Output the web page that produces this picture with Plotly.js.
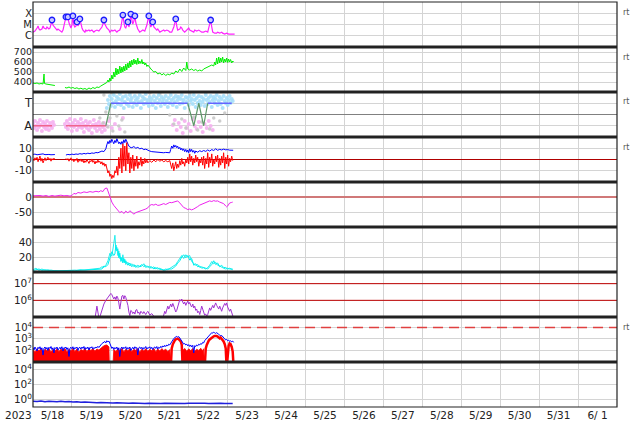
<!DOCTYPE html>
<html><head><meta charset="utf-8">
<script src="https://cdn.plot.ly/plotly-3.0.1.min.js"></script>
<style>html,body{margin:0;padding:0;background:#fff}#chart{width:634px;height:424px}</style>
</head><body><div id="chart"></div>
<script>
// ---- time axis: hours after 2023-05-18 00:00 UT ----
const yearLabel = '2023';
const rangeStart = '2023-05-18';
const rangeEnd = '2023-06-02';

// Panel 1: X-ray flux
const xrayHours = [0,1.2,2.5,3.1,3.7,4.3,5.5,6.2,6.8,8.0,
 8.6,9.8,10.5,11.1,11.7,12.3,13.5,14.8,15.4,16.6,
 17.8,18.5,19.1,19.7,20.3,20.9,21.5,22.2,22.8,23.4,
 24.0,24.6,25.2,25.8,26.5,27.1,27.7,28.3,28.9,29.5,
 30.2,30.8,32.0,32.6,33.2,34.5,35.1,36.3,37.5,38.2,
 39.4,40.6,41.2,42.5,43.1,43.7,44.3,44.9,45.5,46.8,
 47.4,48.6,49.2,50.5,51.7,52.3,53.5,54.2,54.8,55.4,
 56.0,56.6,57.2,57.8,58.5,59.1,59.7,60.3,60.9,61.5,
 62.2,62.8,63.4,64.0,64.6,65.8,66.5,67.7,68.9,69.5,
 70.2,70.8,71.4,72.0,72.6,73.2,73.8,74.5,75.1,76.3,
 76.9,78.2,79.4,80.6,81.2,82.5,83.7,84.3,85.5,86.2,
 86.8,87.4,88.0,88.6,89.2,90.5,91.1,91.7,92.3,93.5,
 94.8,95.4,96.0,96.6,97.8,99.1,99.7,100.9,102.2,102.8,
 104.0,105.2,106.5,107.7,108.3,108.9,109.5,110.2,110.8,112.0,
 113.2,113.8,115.1,116.3,116.9,118.2,119.4,120.6,121.8,123.1,
 124.3];
const xrayFlux = [2.1e-6,2.6e-6,4.9e-6,7.4e-6,4.0e-6,3.2e-6,4.0e-6,7.4e-6,4.9e-6,4.0e-6,
 6e-6,4e-6,4.9e-6,9e-6,2.5e-5,9e-6,4.9e-6,3.2e-6,4.0e-6,2.6e-6,
 2.1e-6,3.2e-6,9e-6,2.5e-5,4.7e-5,2.5e-5,4.7e-5,1.35e-5,6e-6,4.9e-6,
 9e-6,5.8e-5,9e-6,6e-6,7.4e-6,1.7e-5,7.4e-6,1.1e-5,3.1e-5,1.1e-5,
 4.9e-6,3.2e-6,2.1e-6,3.2e-6,2.6e-6,3.2e-6,2.6e-6,3.2e-6,2.1e-6,2.6e-6,
 3.2e-6,2.6e-6,3.2e-6,6e-6,1.1e-5,2.5e-5,1.1e-5,6e-6,4.9e-6,3.2e-6,
 2.1e-6,3.2e-6,2.6e-6,3.2e-6,2.1e-6,2.6e-6,3.2e-6,6e-6,1.7e-5,6.9e-5,
 1.7e-5,6e-6,4.9e-6,9e-6,1.7e-5,6e-6,1.35e-5,8.5e-5,2.5e-5,1.1e-5,
 2.0e-5,5.8e-5,1.35e-5,6e-6,4e-6,2.1e-6,2.6e-6,3.2e-6,2.6e-6,4e-6,
 9e-6,2.5e-5,5.8e-5,1.35e-5,6e-6,9e-6,1.7e-5,6e-6,4.9e-6,3.2e-6,
 4e-6,2.1e-6,2.6e-6,3.2e-6,2.6e-6,3.2e-6,2.6e-6,2.1e-6,2.1e-6,3.2e-6,
 6e-6,1.35e-5,3.1e-5,7.4e-6,3.2e-6,4e-6,6e-6,4.9e-6,3.2e-6,2.1e-6,
 3.2e-6,4e-6,4.9e-6,3.2e-6,2.6e-6,2.1e-6,3.2e-6,2.6e-6,3.2e-6,2.6e-6,
 2.1e-6,2.1e-6,2.6e-6,2.1e-6,4.9e-6,1.1e-5,2.5e-5,6e-6,2.1e-6,1.7e-6,
 1.7e-6,2.1e-6,1.7e-6,2.1e-6,1.7e-6,1.4e-6,1.7e-6,1.4e-6,1.4e-6,1.5e-6,
 1.4e-6];
const flareHours = [11.7,20.3,21.5,24.6,27.1,28.9,43.7,55.4,58.5,60.3,62.8,71.4,73.8,88.0,109.5];
const flareFlux  = [2.5e-5,4.7e-5,4.7e-5,5.8e-5,1.7e-5,3.1e-5,2.5e-5,6.9e-5,1.7e-5,8.5e-5,5.8e-5,5.8e-5,1.7e-5,3.1e-5,2.5e-5];

// Panel 2: solar wind speed
const speedHours = [0,1.2,2.5,3.7,4.9,6.2,6.8,7.1,8.0,9.2,
 10.5,11.7,12.9,13.5,null,19.7,20.9,22.2,23.4,24.6,
 25.8,27.1,28.3,29.5,30.8,32.0,33.2,34.5,35.7,36.9,
 38.2,39.4,40.6,41.8,43.1,44.3,45.5,46.2,46.8,47.4,
 48.0,48.6,49.2,49.8,50.5,51.1,51.7,52.3,52.9,53.5,
 54.2,54.8,55.4,56.0,56.6,57.2,57.8,58.5,59.1,59.7,
 60.3,60.9,61.5,62.2,62.8,63.4,64.0,64.6,65.2,65.8,
 66.5,67.1,67.7,68.3,68.9,69.5,70.2,70.8,72.0,73.2,
 74.5,75.7,76.9,78.2,79.4,80.6,81.8,83.1,84.3,85.5,
 86.8,88.0,89.2,90.5,91.7,92.9,94.2,94.8,95.4,96.6,
 97.8,99.1,100.3,101.5,102.8,104.0,105.2,106.5,107.7,108.9,
 110.2,111.4,112.0,112.6,113.2,113.8,114.5,115.1,115.7,116.3,
 116.9,117.5,118.2,118.8,119.4,120.0,120.6,121.2,121.8,122.5,
 123.1,123.7];
const speedKms = [390,385,390,380,385,380,480,385,380,378,
 375,370,372,365,null,345,340,350,338,345,
 335,342,330,338,328,335,325,340,330,345,
 335,350,345,360,370,385,395,420,400,440,
 410,470,430,500,450,540,470,530,480,560,
 490,550,500,560,510,580,520,590,540,610,
 550,620,570,630,580,620,575,640,580,610,
 585,625,580,600,570,590,555,570,540,520,
 500,505,480,490,470,485,465,480,470,490,
 480,510,495,530,505,540,515,600,530,520,
 530,515,525,510,520,510,530,540,545,560,
 570,560,600,570,640,580,650,590,640,600,
 650,590,630,600,640,595,630,600,625,590,
 610,600];

// Panel 3: sector (T = toward = 1, A = away = -1) and field-angle clouds
const awayLineHours = [0,11.7,null,20.3,44.9];
const awayLineVal   = [-1,-1,null,-1,-1];
const towardLineHours = [48.0,95.4,null,107.7,122.5];
const towardLineVal   = [1,1,null,1,1];
const switchLineHours = [44.9,48.0,null,95.4,99.1,102.2,105.2,107.7];
const switchLineVal   = [-1,1,null,1,-1,1,-1,1];
const awayDotHours = [0,0.6,1.2,1.8,2.5,3.1,3.7,4.3,4.9,5.5,6.2,6.8,7.4,8.0,8.6,9.2,9.8,10.5,11.1,11.7,12.3,12.9,
 19.7,20.3,20.9,21.5,22.2,22.8,23.4,24.0,24.6,25.2,25.8,26.5,27.1,27.7,28.3,28.9,29.5,30.2,30.8,31.4,32.0,32.6,33.2,33.8,
 34.5,35.1,35.7,36.3,36.9,37.5,38.2,38.8,39.4,40.0,40.6,41.2,41.8,42.5,43.1,43.7,44.3,45.5,46.8,48.6,50.5,53.5,55.4,
 86.2,87.4,88.6,89.8,91.1,92.3,93.5,94.8,96.0,97.2,98.5,99.7,100.9,102.2,103.4,104.6,105.8,107.1,108.3,109.5,110.8];
const awayDotVal = [-0.84,-1.2,-0.58,-1.02,-1.38,-0.76,-1.11,-0.49,-0.93,-1.47,-0.67,-1.11,-0.84,-1.29,-0.58,-1.02,-1.38,-0.76,-1.02,-1.2,-0.67,-0.93,
 -0.84,-1.11,-0.58,-1.29,-0.84,-0.4,-1.02,-1.47,-0.76,-1.11,-0.49,-0.93,-1.38,-0.67,-1.11,-0.84,-0.4,-1.2,-0.76,-1.56,-1.02,-0.58,-1.2,-0.84,
 -1.38,-0.67,-1.11,-1.64,-0.93,-0.49,-1.2,-0.84,-1.47,-1.02,-0.67,-1.29,-0.93,-1.56,-1.11,-0.76,-1.38,-1.02,-0.58,-1.2,-0.84,-1.29,-0.31,
 -0.93,-0.49,-1.38,-0.76,-1.11,-1.64,-0.58,-1.2,-0.84,-1.47,-0.4,-1.02,-1.29,-0.67,-1.11,-1.56,-0.84,-1.2,-0.58,-1.02,-1.38];
const towardDotHours = [45.5,46.2,46.8,47.4,48.0,48.6,49.2,49.8,50.5,51.1,51.7,52.3,52.9,53.5,54.2,54.8,55.4,56.0,56.6,57.2,
 57.8,58.5,59.1,59.7,60.3,60.9,61.5,62.2,62.8,63.4,64.0,64.6,65.2,65.8,66.5,67.1,67.7,68.3,68.9,69.5,
 70.2,70.8,71.4,72.0,72.6,73.2,73.8,74.5,75.1,75.7,76.3,76.9,77.5,78.2,78.8,79.4,80.0,80.6,81.2,81.8,
 82.5,83.1,83.7,84.3,84.9,85.5,86.2,86.8,87.4,88.0,88.6,89.2,89.8,90.5,91.1,91.7,92.3,92.9,93.5,94.2,
 94.8,95.4,96.0,96.6,97.2,97.8,98.5,99.1,99.7,100.3,100.9,101.5,102.2,102.8,103.4,104.0,104.6,105.2,105.8,106.5,
 107.1,107.7,108.3,108.9,109.5,110.2,110.8,111.4,112.0,112.6,113.2,113.8,114.5,115.1,115.7,116.3,116.9,117.5,118.2,118.8,
 119.4,120.0,120.6,121.2,121.8,122.5,123.1];
const towardDotVal = [0.58,1.29,0.93,1.64,0.76,1.38,1.02,1.73,0.67,1.2,1.56,0.93,1.38,1.82,0.84,1.29,1.56,0.58,1.11,1.64,
 0.93,1.38,0.76,1.73,1.2,1.47,0.67,1.02,1.64,1.29,0.84,1.47,1.11,1.73,0.58,1.2,1.56,0.93,1.38,1.82,
 1.02,1.29,0.76,1.56,1.11,1.38,0.84,1.64,1.2,0.58,1.47,1.02,1.73,1.29,0.76,1.56,1.11,1.38,0.93,1.64,
 1.2,0.67,1.47,1.02,1.73,1.29,0.84,1.47,1.11,1.64,0.67,1.29,1.56,0.93,1.38,1.73,1.02,1.29,0.58,1.56,
 1.11,1.47,0.84,1.64,1.2,1.38,0.93,1.73,1.29,0.67,1.47,1.02,1.64,1.2,0.84,1.56,1.11,1.38,0.76,1.73,
 1.29,0.93,1.47,1.11,1.64,0.67,1.29,1.56,1.02,1.38,1.73,0.84,1.2,1.56,0.93,1.38,0.58,1.64,1.2,1.02,
 1.47,0.84,1.29,1.64,1.02,1.38,1.2];
const grayDotHours = [41.2,43.1,44.9,46.2,47.4,49.2,51.7,52.9,54.8,56.6,43.7,48.6,59.7,72.0,78.2,84.3,86.8,89.2,91.7,94.2,96.6,99.1,101.5,104.0,106.5,108.9,111.4,115.1,118.2];
const grayDotVal   = [-0.31,-0.76,0.22,-1.11,-0.31,-1.47,-0.13,-1.02,-0.49,-1.56,1.73,1.91,1.91,1.91,1.82,-0.04,-0.84,1.56,-0.4,-1.2,1.82,-0.22,-1.38,-0.67,1.91,-1.29,-0.31,-0.58,0.13];

// Panel 4: IMF Bt and Bz (nT)
const btHours = [0,1.2,2.5,3.7,4.9,6.2,7.4,8.6,9.8,11.1,
 12.3,13.5,null,20.3,21.5,22.8,24.0,25.2,26.5,27.7,
 28.9,30.2,31.4,32.6,33.8,35.1,36.3,37.5,38.8,40.0,
 41.2,42.5,43.7,44.3,44.9,45.5,46.2,46.8,47.4,48.0,
 48.6,49.2,49.8,50.5,51.1,51.7,52.3,52.9,53.5,54.2,
 54.8,55.4,56.0,56.6,57.2,57.8,58.5,59.1,59.7,60.9,
 62.2,63.4,64.6,65.8,67.1,68.3,69.5,70.8,72.0,73.2,
 74.5,75.7,76.9,78.2,79.4,80.6,81.8,83.1,84.3,84.9,
 85.5,86.2,86.8,87.4,88.0,88.6,89.2,89.8,90.5,91.1,
 91.7,92.3,92.9,93.5,94.2,94.8,95.4,96.0,96.6,97.2,
 97.8,98.5,99.1,99.7,100.3,101.5,102.8,104.0,105.2,106.5,
 107.7,108.9,110.2,111.4,112.6,113.8,115.1,116.3,117.5,118.8,
 120.0,121.2,122.5,123.4];
const btNt = [4.5,4.8,4.2,4.6,4.4,5.0,4.3,4.7,4.5,4.2,
 4.6,4.4,null,4.0,4.5,4.2,4.8,4.4,4.9,4.6,
 5.2,4.8,5.4,5.0,5.6,5.2,5.8,5.5,6.2,6.0,
 6.8,7.5,7.0,8.0,9.5,13,16,14,17,15,
 18,16,14,17,15,18.5,16,14,15.5,13.5,
 16,14,17.5,15,18,15.5,13,12,11,10.5,
 11.5,10,10.8,9.5,10,8.8,9.2,8,7.5,7,
 6.8,6.5,6.8,6.2,6.4,6.0,6.3,5.8,6.0,9,
 12,10,13,11,12.5,10.5,11.8,9.5,10.8,8.5,
 10,8,9.5,7,9,6.5,8.5,6,9.5,7,
 9,6.5,8,5.5,7.5,6.5,7.8,7,8,7.2,
 8.5,7.5,8.8,8,9.5,8.2,9,8.5,9.2,8.6,
 8.8,8.3,8.5,8.2];
const bzHours = [0,0.6,1.2,1.8,2.5,3.1,3.7,4.3,4.9,5.5,
 6.2,6.8,7.4,8.0,8.6,9.2,9.8,10.5,11.1,11.7,
 12.3,12.9,13.5,null,20.3,20.9,21.5,22.2,22.8,23.4,
 24.0,24.6,25.2,25.8,26.5,27.1,27.7,28.3,28.9,29.5,
 30.2,30.8,31.4,32.0,32.6,33.2,33.8,34.5,35.1,35.7,
 36.3,36.9,37.5,38.2,38.8,39.4,40.0,40.6,41.2,41.8,
 42.5,43.1,43.7,44.3,44.9,45.5,46.2,46.8,47.4,48.0,
 48.6,49.2,49.8,50.5,51.1,51.7,52.3,52.9,53.5,54.2,
 54.8,55.4,56.0,56.6,57.2,57.8,58.5,59.1,59.7,60.3,
 60.9,61.5,62.2,62.8,63.4,64.0,64.6,65.2,65.8,66.5,
 67.1,67.7,68.3,68.9,69.5,70.2,70.8,72.0,73.2,74.5,
 75.7,76.9,78.2,79.4,80.6,81.8,83.1,84.3,84.9,85.5,
 86.2,86.8,87.4,88.0,88.6,89.2,89.8,90.5,91.1,91.7,
 92.3,92.9,93.5,94.2,94.8,95.4,96.0,96.6,97.2,97.8,
 98.5,99.1,99.7,100.3,100.9,101.5,102.2,102.8,103.4,104.0,
 104.6,105.2,105.8,106.5,107.1,107.7,108.3,108.9,109.5,110.2,
 110.8,111.4,112.0,112.6,113.2,113.8,114.5,115.1,115.7,116.3,
 116.9,117.5,118.2,118.8,119.4,120.0,120.6,121.2,121.8,122.5,
 123.1];
const bzNt = [0.5,-1,1.5,-0.5,2,-2,0.5,3,-1.5,1,
 -3,0,1.5,-1,0.5,2,-0.5,1,-1.5,0.8,
 -0.5,1.2,0,null,1,-0.5,0.8,-1.5,0.5,1.5,
 -1,0.5,-2,0.2,-1,1,-2.5,-0.5,-1.5,0.5,
 -2,-0.5,-3,-1,-2.5,0,-1.5,-3.5,-1,-2,
 0.5,-2.5,-1,-4,-1.5,-3,-0.5,-2.5,-1.5,-4,
 -2,-5,-3,-6,-4,-9,-12,-10,-15,-13,
 -17,-14,-16,-10,-12,-6,-14,2,-8,10,
 -12,14,-6,12,-10,15,-4,6,-12,2,
 -8,4,-10,0,-6,3,-8,-2,-5,2,
 -6,-1,-4,1,-3,-0.5,-3,-1,-2.5,-0.5,
 -2,0,-1.5,-0.5,-2,-1,-2,-1,-5,-8,
 -3,-10,-6,-2,-8,-4,-7,-1,-5,1,
 -4,-2,-6,0,-3,2,-4,5,-2,3,
 -5,1,-3,4,-2,2,-6,0,-3,2,
 -5,3,-8,1,-4,6,-7,2,-3,5,
 -6,0,-4,3,-2,4,-7,1,-5,3,
 -3,6,-8,2,-4,4,-6,1,-2,3,
 -1];

// Panel 5: Dst (nT)
const dstHours = [0,2.5,4.3,6.2,8.0,9.8,11.7,13.5,15.4,17.2,
 19.1,20.9,22.8,24.0,25.2,26.5,27.7,29.5,31.4,33.2,
 35.1,36.9,38.8,40.6,41.8,43.1,44.3,45.5,46.2,46.8,
 47.4,48.6,49.8,51.1,52.3,53.5,54.8,56.0,57.2,58.5,
 59.7,60.9,62.2,63.4,64.6,65.8,67.1,68.3,69.5,70.8,
 72.0,73.2,74.5,75.7,76.9,78.2,79.4,80.6,81.8,83.1,
 84.3,85.5,86.8,88.0,89.2,90.5,91.7,92.9,94.2,95.4,
 96.6,97.8,99.1,100.3,101.5,102.8,104.0,105.2,106.5,107.7,
 108.9,110.2,111.4,112.6,113.8,115.1,116.3,117.5,118.8,119.4,
 120.0,120.6,121.2,122.5,123.1];
const dstNt = [4,6,5,3,5,2,5,3,5,6,
 4,5,3,5,12,10,15,13,17,15,
 18,16,19,17,21,18,28,30,20,10,
 -5,-17,-28,-37,-45,-52,-48,-55,-47,-53,
 -46,-50,-57,-52,-50,-47,-45,-43,-40,-36,
 -28,-25,-27,-24,-28,-27,-24,-22,-25,-20,
 -18,-19,-17,-15,-13,-20,-27,-35,-38,-42,
 -40,-43,-40,-37,-32,-27,-24,-20,-17,-15,
 -13,-15,-12,-14,-13,-17,-20,-22,-30,-33,
 -30,-24,-20,-18,-17];

// Panel 6: two cyan series
const cyanHours = [0,1.8,3.7,5.5,7.4,9.2,11.1,13.5,16.6,19.7,
 22.8,25.8,28.9,32.0,35.1,38.2,41.2,42.5,43.7,44.9,
 46.2,47.4,48.6,49.8,50.5,51.1,51.7,52.3,52.9,53.5,
 54.2,54.8,55.4,56.0,56.6,57.2,58.5,59.7,60.9,62.2,
 63.4,64.6,65.8,67.1,68.3,69.5,70.8,72.0,73.2,74.5,
 75.7,76.9,78.2,79.4,80.6,81.8,83.1,84.3,85.5,86.8,
 88.0,89.2,90.5,91.7,92.9,94.2,95.4,96.6,97.8,99.1,
 100.3,101.5,102.8,104.0,105.2,106.5,107.7,108.9,110.2,111.4,
 112.6,113.8,115.1,116.3,117.5,118.8,120.0,121.2,122.5,123.1];
const cyanA = [3,5,2,4,2,3,1.5,2,1.5,2,
 1.5,2.5,2,3,3.5,4,5,7,6,9,
 15,25,21,38,49,30,33,22,28,18,
 20,15,23,14,17,10,13,8,11,7,
 9,6,8,10,7,9,6,8,5,7,
 4,6,3,4,2,4,3,5,6,8,
 10,14,19,22,18,23,20,22,14,12,
 9,10,6,7,5,4,6,9,14,11,
 13,9,8,6,5,4,5,4,3.5,4];
const cyanB = [2,3,4,2,3,2,2.5,1.5,2,1.5,
 2,1.5,3,2.5,3,3.5,3,4,8,7,
 10,18,27,22,24,36,28,31,19,25,
 14,19,12,18,12,15,9,12,7,10,
 6,9,7,8,11,6,8,5,7,4,
 6,4,5,3,3,2.5,4,4,4,6,
 8,12,15,20,23,19,22,16,18,9,
 11,7,8,5,6,5,4,7,10,15,
 10,12,7,9,6,6,4,5,4,3];

// Panel 7: purple flux (log)
const purpleHours = [38.2,38.8,39.4,40.0,40.6,41.2,42.5,43.7,44.9,46.2,
 47.4,48.0,48.6,49.2,49.8,50.5,51.1,51.7,52.3,52.9,
 53.5,54.2,54.8,55.4,56.0,56.6,57.2,57.8,58.5,59.1,
 59.7,60.3,60.9,61.5,62.2,62.8,63.4,64.0,64.6,65.2,
 65.8,66.5,67.1,67.7,68.3,69.5,70.2,70.8,72.0,73.2,
 74.5,75.1,null,80.0,80.6,81.2,81.8,82.5,83.1,83.7,
 84.3,84.9,85.5,86.2,86.8,87.4,88.0,88.6,89.2,89.8,
 90.5,91.1,91.7,92.3,92.9,93.5,94.2,94.8,95.4,96.0,
 96.6,97.2,97.8,98.5,99.1,99.7,100.3,100.9,101.5,102.2,
 102.8,103.4,104.0,104.6,105.2,105.8,106.5,107.1,107.7,108.3,
 108.9,109.5,110.2,110.8,111.4,112.0,112.6,113.2,113.8,114.5,
 115.1,115.7,116.3,116.9,117.5,118.2,118.8,119.4,120.0,120.6,
 121.2,121.8,122.5,123.1,123.7];
const purpleFlux = [8e4,3e5,4.5e5,2e5,9e4,1e5,3e5,6e5,1e6,1.4e6,
 2e6,2.6e6,2.2e6,1.5e6,1.2e6,1.6e6,1.1e6,1.8e6,1.4e6,7e5,
 3e5,8e5,1.8e6,2e6,1.2e6,1.9e6,1.5e6,9e5,5e5,2e5,
 1.2e5,2.5e5,2.2e5,1.6e5,2e5,1.5e5,2.6e5,2.8e5,1.7e5,2e5,
 1.4e5,2.2e5,1.8e5,1.6e5,2.1e5,1.4e5,1.9e5,2.2e5,1.3e5,1.6e5,
 1.1e5,8e4,null,8e4,1.5e5,2.2e5,1.6e5,3e5,4.5e5,3e5,
 5e5,6e5,4e5,6.5e5,4.5e5,3e5,2e5,2.5e5,4e5,7e5,
 1.1e6,9e5,1.2e6,8e5,6e5,8e5,5e5,7e5,9e5,6e5,
 7.5e5,5e5,4e5,6e5,3.5e5,4.5e5,2.5e5,3e5,1.8e5,2.2e5,
 1.4e5,2.5e5,4.5e5,3e5,2e5,1.3e5,1.5e5,1.1e5,1.4e5,2.5e5,
 3.5e5,2.5e5,4e5,5e5,3.5e5,6e5,7e5,5e5,4e5,3e5,
 4.5e5,3e5,2.2e5,3.5e5,5e5,6.5e5,5e5,7e5,4e5,3e5,
 2.2e5,3e5,2e5,1.3e5,8e4];

// Panel 8: red and blue flux (log)
const redFillHours = [0,1.2,2.5,3.7,4.9,6.2,7.4,8.6,9.8,11.1,
 12.3,13.5,14.8,16.0,17.2,18.5,19.7,20.9,22.2,23.4,
 24.6,25.8,27.1,28.3,29.5,30.8,32.0,33.2,34.5,35.7,
 36.9,38.2,39.4,40.6,41.8,43.1,44.3,45.5,46.2,46.8,
 47.1,49.2,49.8,51.1,52.3,53.5,54.8,56.0,57.2,58.5,
 59.7,60.9,62.2,63.4,64.6,65.8,67.1,68.3,69.5,70.8,
 72.0,73.2,74.5,75.7,76.9,78.2,79.4,80.6,81.8,83.1,
 84.3,84.9,91.7,92.3,93.5,94.8,96.0,97.2,98.5,99.7,
 100.9,102.2,103.4,104.6,105.2,105.8,123.7];
const redFillFlux = [120,70,140,90,150,75,130,95,150,70,
 125,85,140,80,130,100,145,75,125,90,
 150,80,135,70,120,95,150,80,130,100,
 145,85,135,110,170,220,280,300,250,200,
 3,3,120,80,140,95,150,75,130,90,
 145,80,125,100,150,70,130,90,140,85,
 125,95,150,75,135,90,145,100,130,80,
 120,3,3,100,150,85,140,95,150,80,
 130,100,155,90,140,3,3];
const redArcHours = [84.9,85.5,86.2,86.8,87.4,88.0,88.6,89.2,89.8,90.5,91.1,91.7,92.3,null,
 105.8,106.5,107.1,107.7,108.3,108.9,109.5,110.2,110.8,111.4,112.0,112.6,113.2,113.8,114.5,115.1,115.7,116.3,116.9,117.5,118.2,118.8,119.4,null,
 119.4,120.0,120.6,121.2,121.8,122.5,123.1,123.7];
const redArcFlux = [3,150,350,550,750,900,1000,1050,950,800,600,300,3,null,
 3,150,300,500,700,900,1100,1300,1500,1700,1800,1900,1800,1600,1400,1100,1300,1000,800,600,350,150,3,null,
 3,100,250,400,350,200,80,3];
const blueFluxHours = [0,0.6,1.2,1.8,2.5,3.1,3.7,4.3,4.9,5.5,
 6.2,6.8,7.4,8.0,8.6,9.2,9.8,10.5,11.1,11.7,
 12.3,12.9,13.5,14.2,14.8,15.4,16.0,16.6,17.2,17.8,
 18.5,19.1,19.7,20.3,20.9,21.5,22.2,22.8,23.4,24.0,
 24.6,25.2,25.8,26.5,27.1,27.7,28.3,28.9,29.5,30.2,
 30.8,31.4,32.0,32.6,33.2,33.8,34.5,35.1,35.7,36.3,
 36.9,37.5,38.2,38.8,39.4,40.0,40.6,41.2,41.8,42.5,
 43.1,43.7,44.3,44.9,45.5,46.2,46.8,47.4,48.0,48.6,
 49.2,49.8,50.5,51.1,51.7,52.3,52.9,53.5,54.2,54.8,
 55.4,56.0,56.6,57.2,57.8,58.5,59.1,59.7,60.3,60.9,
 61.5,62.2,62.8,63.4,64.0,64.6,65.2,65.8,66.5,67.1,
 67.7,68.3,68.9,69.5,70.2,70.8,71.4,72.0,72.6,73.2,
 73.8,74.5,75.1,75.7,76.3,76.9,77.5,78.2,78.8,79.4,
 80.0,80.6,81.2,81.8,82.5,83.1,83.7,84.3,84.9,85.5,
 86.2,86.8,87.4,88.0,88.6,89.2,89.8,90.5,91.1,91.7,
 92.3,92.9,93.5,94.2,94.8,95.4,96.0,96.6,97.2,97.8,
 98.5,99.1,99.7,100.3,100.9,101.5,102.2,102.8,103.4,104.0,
 104.6,105.2,105.8,106.5,107.1,107.7,108.3,108.9,109.5,110.2,
 110.8,111.4,112.0,112.6,113.2,113.8,114.5,115.1,115.7,116.3,
 116.9,117.5,118.2,118.8,119.4,120.0,120.6,121.2,121.8,122.5,
 123.1,123.7];
const blueFlux = [180,110,200,150,90,190,140,210,120,170,
 40,160,200,130,180,100,190,150,220,120,
 170,60,180,140,200,110,170,190,130,210,
 90,180,150,200,120,170,30,160,190,140,
 210,120,180,150,200,100,170,190,130,200,
 150,220,120,180,140,200,110,190,160,210,
 130,180,150,200,170,230,180,250,300,400,
 450,500,600,450,700,550,650,400,250,150,
 200,120,180,140,200,110,170,30,160,200,
 130,190,150,210,120,180,140,200,100,170,
 190,130,210,150,180,40,170,200,140,190,
 120,180,150,220,130,180,160,210,140,190,
 120,180,200,150,220,130,190,160,230,180,
 250,200,280,220,300,250,350,300,450,600,
 800,1100,1300,1500,1700,1400,1600,1200,900,700,
 500,350,400,300,350,250,320,220,300,200,
 280,60,260,220,300,250,350,300,400,350,
 500,450,700,900,1200,1600,2000,2500,3000,3500,
 3200,3800,3400,3000,3500,2800,2500,2200,1800,2000,
 1500,1200,1000,800,900,700,800,600,700,550,
 650,500];

// Panel 9: low blue series (log)
const lowHours = [0,2.5,4.9,7.4,9.8,12.3,14.8,17.2,19.7,22.2,
 24.6,27.1,29.5,32.0,34.5,36.9,39.4,41.8,44.3,46.8,
 49.2,51.7,54.2,56.6,59.1,61.5,64.0,66.5,68.9,71.4,
 73.8,76.3,78.8,81.2,83.7,86.2,88.6,91.1,93.5,96.0,
 98.5,100.9,103.4,105.8,108.3,110.8,113.2,115.7,118.2,120.6,
 123.1];
const lowVal = [0.6,0.55,0.65,0.5,0.6,0.55,0.5,0.6,0.5,0.55,
 0.45,0.5,0.42,0.45,0.4,0.43,0.38,0.4,0.36,0.38,
 0.34,0.36,0.33,0.35,0.32,0.34,0.31,0.33,0.3,0.32,
 0.3,0.32,0.29,0.31,0.3,0.32,0.29,0.31,0.3,0.32,
 0.3,0.31,0.29,0.31,0.3,0.32,0.3,0.31,0.29,0.3,
 0.3];

// ---------------- build ----------------
const t0 = Date.UTC(2023, 4, 18);
const T = a => a.map(h => h === null ? null : t0 + h * 3600000);
const FONT = 'DejaVu Sans';

const traces = [
  {x:T(xrayHours), y:xrayFlux, yaxis:'y', mode:'lines', line:{color:'#ff22ff', width:1.2}},
  {x:T(flareHours), y:flareFlux, yaxis:'y', mode:'markers',
   marker:{symbol:'circle', size:5.5, color:'#c8c8ff', line:{color:'#1a1aff', width:1.3}}},
  {x:T(speedHours), y:speedKms, yaxis:'y2', mode:'lines', line:{color:'#00ee00', width:1}},
  {x:T(awayDotHours), y:awayDotVal, yaxis:'y3', mode:'markers', marker:{size:4, color:'rgba(245,175,240,0.9)'}},
  {x:T(grayDotHours), y:grayDotVal, yaxis:'y3', mode:'markers', marker:{size:3.5, color:'rgba(200,200,200,0.9)'}},
  {x:T(towardDotHours), y:towardDotVal, yaxis:'y3', mode:'markers', marker:{size:4, color:'rgba(165,222,250,0.9)'}},
  {x:T(awayLineHours), y:awayLineVal, yaxis:'y3', mode:'lines', line:{color:'#f0648c', width:1.5}},
  {x:T(towardLineHours), y:towardLineVal, yaxis:'y3', mode:'lines', line:{color:'#6464ff', width:1.5}},
  {x:T(switchLineHours), y:switchLineVal, yaxis:'y3', mode:'lines', line:{color:'#5f9a6a', width:1.2}},
  {x:T(btHours), y:btNt, yaxis:'y4', mode:'lines', line:{color:'#0000ff', width:1}},
  {x:T(bzHours), y:bzNt, yaxis:'y4', mode:'lines', line:{color:'#ff0000', width:1}},
  {x:T(dstHours), y:dstNt, yaxis:'y5', mode:'lines', line:{color:'#ee22ee', width:1}},
  {x:T(cyanHours), y:cyanA, yaxis:'y6', mode:'lines', line:{color:'#22eeee', width:1}},
  {x:T(cyanHours), y:cyanB, yaxis:'y6', mode:'lines', line:{color:'#00f0f0', width:1}},
  {x:T(purpleHours), y:purpleFlux, yaxis:'y7', mode:'lines', line:{color:'#a030d0', width:1}},
  {x:T([redFillHours[0]].concat(redFillHours, [redFillHours[redFillHours.length-1]])),
   y:[3].concat(redFillFlux, [3]), yaxis:'y8', mode:'lines', fill:'toself',
   fillcolor:'#ff0000', line:{color:'#ff0000', width:0.8}},
  {x:T(redArcHours), y:redArcFlux, yaxis:'y8', mode:'lines', line:{color:'#ff0000', width:2.5}},
  {x:T(blueFluxHours), y:blueFlux, yaxis:'y8', mode:'lines', line:{color:'#0000ff', width:1}},
  {x:T(lowHours), y:lowVal, yaxis:'y9', mode:'lines', line:{color:'#2020dd', width:1.5}}
];
traces.forEach(t => { t.xaxis = 'x'; t.hoverinfo = 'skip'; t.showlegend = false; });

const dom = i => [1 - (i + 1) / 9, 1 - i / 9];
const yBase = {anchor:'x', showgrid:true, gridcolor:'#d4d4d4', gridwidth:1, zeroline:false, showline:false,
  ticks:'', tickfont:{family:FONT, size:10.5, color:'#222'}, fixedrange:true, tickmode:'array'};
const sup = n => '10<sup>' + n + '</sup>';

const layout = {
  width:634, height:424, margin:{l:33, r:17, t:2, b:17},
  paper_bgcolor:'#fff', plot_bgcolor:'#fff', showlegend:false,
  font:{family:FONT, color:'#222'},
  xaxis:{type:'date', range:[rangeStart, rangeEnd], anchor:'y9', tick0:rangeStart, dtick:86400000,
    ticklabelmode:'period', tickformat:'%-m/%e', showgrid:true, gridcolor:'#d4d4d4', zeroline:false,
    showline:false, ticks:'', tickfont:{family:FONT, size:10.5, color:'#222'}, fixedrange:true},
  yaxis:Object.assign({}, yBase, {domain:dom(0), type:'log', range:[-7, -3], tickvals:[1e-4,1e-5,1e-6], ticktext:['X','M','C'], tickfont:{family:FONT, size:10, color:'#222'}}),
  yaxis2:Object.assign({}, yBase, {domain:dom(1), range:[300, 750], tickvals:[400,500,600,700], ticktext:['400','500','600','700'], tickfont:{family:FONT, size:9.5, color:'#222'}}),
  yaxis3:Object.assign({}, yBase, {domain:dom(2), range:[-2, 2], tickvals:[1,-1], ticktext:['T','A'], tickfont:{family:FONT, size:11.5, color:'#222'}}),
  yaxis4:Object.assign({}, yBase, {domain:dom(3), range:[-20, 20], tickvals:[10,0,-10], ticktext:['10','0','-10']}),
  yaxis5:Object.assign({}, yBase, {domain:dom(4), range:[-100, 50], tickvals:[0,-50], ticktext:['0','-50']}),
  yaxis6:Object.assign({}, yBase, {domain:dom(5), range:[0, 60], tickvals:[20,40], ticktext:['20','40']}),
  yaxis7:Object.assign({}, yBase, {domain:dom(6), type:'log', range:[5, 7.7], tickvals:[1e6,1e7], ticktext:[sup(6), sup(7)]}),
  yaxis8:Object.assign({}, yBase, {domain:dom(7), type:'log', range:[1, 4.9], tickvals:[1e2,1e3,1e4], ticktext:[sup(2), sup(3), sup(4)], tickfont:{family:FONT, size:10, color:'#222'}}),
  yaxis9:Object.assign({}, yBase, {domain:dom(8), type:'log', range:[-1, 5], tickvals:[1,1e2,1e4], ticktext:[sup(0), sup(2), sup(4)]}),
  shapes:[],
  annotations:[]
};

// reference lines (inside each subplot, between grid and data)
const refLine = (yref, y, color, width, dash) => ({type:'line', layer:'between', xref:'x', x0:rangeStart, x1:rangeEnd, yref:yref, y0:y, y1:y,
  line:{color:color, width:width, dash:dash || 'solid'}});
layout.shapes.push(refLine('y3', 0, '#808080', 1));
layout.shapes.push(refLine('y4', 0, '#b00000', 1.2));
layout.shapes.push(refLine('y5', 0, '#d07878', 2));
layout.shapes.push(refLine('y7', 1e6, '#c00000', 1));
layout.shapes.push(refLine('y7', 1e7, '#c00000', 1));
layout.shapes.push(refLine('y8', 1e4, '#e04040', 1.5, '10px,6px'));
// panel separators and frame
for (let k = 1; k <= 8; k++) {
  layout.shapes.push({type:'line', xref:'paper', yref:'paper', x0:0, x1:1, y0:k/9, y1:k/9, line:{color:'#222', width:3}});
}
layout.shapes.push({type:'rect', xref:'paper', yref:'paper', x0:0, x1:1, y0:0, y1:1, line:{color:'#222', width:1.2}});

// small "rt" tags at the right edge
const pyPaper = px => (407 - px) / 405;
[13, 57, 101, 147, 327].forEach(py => layout.annotations.push({
  xref:'paper', yref:'paper', x:1.006, y:pyPaper(py), xanchor:'left', yanchor:'middle',
  text:'rt', showarrow:false, font:{family:FONT, size:8, color:'#555'}}));
layout.annotations.push({xref:'paper', yref:'paper', x:-0.024, y:pyPaper(415), xanchor:'center', yanchor:'middle',
  text:yearLabel, showarrow:false, font:{family:FONT, size:10.5, color:'#222'}});

Plotly.newPlot('chart', traces, layout, {staticPlot:true, displayModeBar:false});
</script>
</body></html>
